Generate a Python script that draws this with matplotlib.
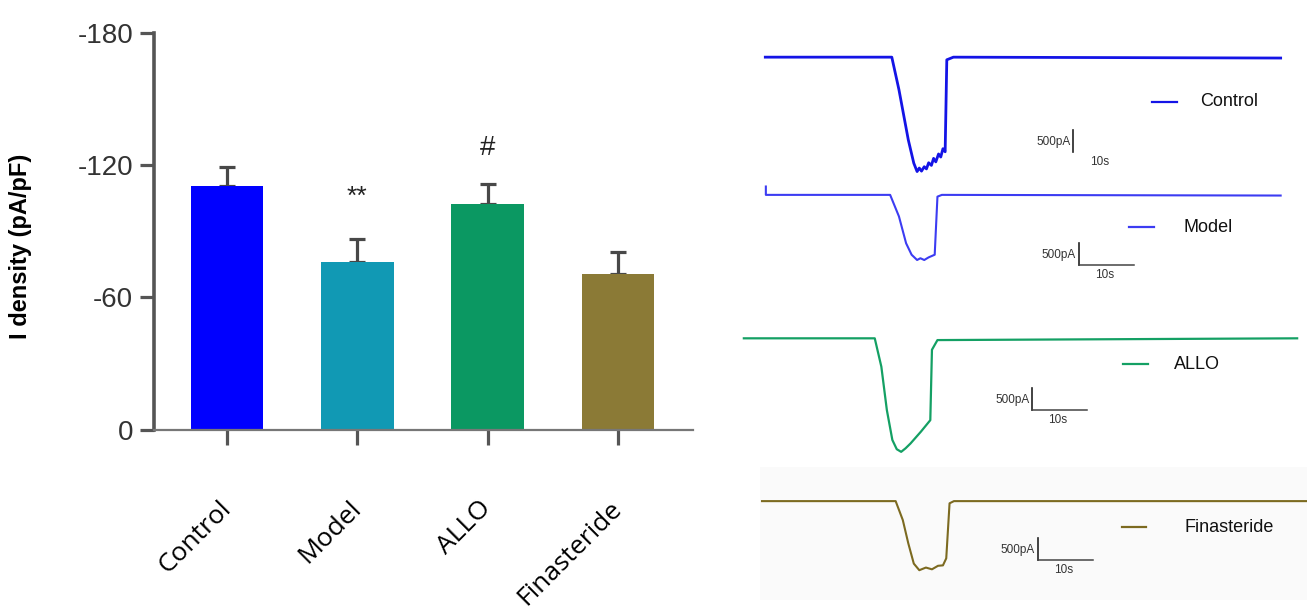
import matplotlib.pyplot as plt

plt.rcParams['font.family'] = ['Liberation Sans', 'DejaVu Sans']

# ---- bar chart data (I density, pA/pF) ----
groups = ['Control', 'Model', 'ALLO', 'Finasteride']
density = [-110.3, -76.0, -102.3, -70.4]
sem = [8.8, 10.6, 9.0, 10.2]
marks = ['', '**', '#', '']
bar_colors = ['#0000ff', '#1199b4', '#0b9862', '#8b7a36']
ytick_vals = [0, -60, -120, -180]

# ---- representative current traces (time s, current pA from baseline) ----
ctrl_t = [0, 23.0, 24.3, 26.0, 27.0, 27.6, 28.0, 28.4, 28.9, 29.3, 29.7, 30.2, 30.6,
          31.0, 31.5, 31.9, 32.3, 32.7, 33.0, 34.2, 93.7]
ctrl_i = [0, 0, -740, -1880, -2410, -2600, -2520, -2590, -2490, -2540, -2400, -2460,
          -2300, -2380, -2200, -2270, -2080, -2150, -60, 0, -20]
model_t = [0, 0, 22.6, 24.2, 25.5, 26.5, 27.5, 28.1, 28.8, 29.6, 30.7, 31.2, 32.0, 93.6]
model_i = [190, 0, 0, -490, -1100, -1360, -1480, -1440, -1480, -1420, -1360, -40, 0, -15]
allo_t = [0, 23.8, 25.0, 26.0, 27.0, 27.8, 28.6, 29.4, 30.3, 32.2, 33.9, 34.2, 35.2, 100.6]
allo_i = [0, 0, -645, -1630, -2310, -2520, -2580, -2500, -2390, -2120, -1860, -260, -40, 0]
fin_t = [0, 24.3, 25.6, 26.6, 27.6, 28.6, 29.8, 30.9, 32.0, 32.9, 33.5, 34.1, 34.9, 99.1]
fin_i = [0, 0, -430, -960, -1420, -1570, -1510, -1550, -1470, -1460, -1300, -50, 0, 0]

trace_t = [ctrl_t, model_t, allo_t, fin_t]
trace_i = [ctrl_i, model_i, allo_i, fin_i]
trace_colors = ['#1414e6', '#3c3cf2', '#14a064', '#7c6a20']
trace_lw = [2.0, 1.5, 1.6, 1.5]

# placement of each trace inside the right panel (s, pA)
trace_t0 = [4.6, 4.7, 0.7, 4.0]
trace_base = [-390, -3520, -6780, -10480]
scalebar_at = [(60.6, -2045), (61.6, -4620), (53.1, -7916), (54.1, -11325)]
scalebar_h = [False, True, True, True]
legend_at = [(74.9, -1402, 83.6), (70.7, -4257, 80.7), (69.7, -7364, 78.9), (69.4, -11075, 80.9)]

fig = plt.figure(figsize=(13.07, 6.14), dpi=100)

# ================= left: bar chart =================
ax = fig.add_axes([154 / 1307, 1 - 429.7 / 614, 538.7 / 1307, 397 / 614])
x = list(range(len(groups)))
ax.bar(x, density, width=0.556, color=bar_colors, zorder=2)
ax.errorbar(x, density, yerr=[sem, [0] * len(sem)], fmt='none', ecolor='#484848',
            elinewidth=2.3, capsize=6, capthick=2.3, zorder=1)
for xi, m in zip(x, marks):
    if m == '**':
        ax.text(xi, -102.5, m, ha='center', va='baseline', fontsize=19, color='#222222')
    elif m == '#':
        ax.text(xi, -124.5, m, ha='center', va='baseline', fontsize=20, color='#222222')

ax.set_xlim(-0.56, 3.573)
ax.set_ylim(0, -180)
ax.set_yticks(ytick_vals)
ax.set_yticklabels([str(v) for v in ytick_vals], fontsize=20, color='#333333')
ax.set_xticks(x)
ax.set_xticklabels(groups, rotation=45, ha='right', va='center', rotation_mode='anchor',
                   family=['Open Sans', 'DejaVu Sans'], fontsize=19)
ax.tick_params(axis='x', length=11, width=2.3, color='#555555', pad=43)
ax.tick_params(axis='y', length=10, width=2.3, color='#555555', pad=5)
for side in ['top', 'right']:
    ax.spines[side].set_visible(False)
ax.spines['left'].set_linewidth(2.6)
ax.spines['left'].set_color('#555555')
ax.spines['bottom'].set_linewidth(1.6)
ax.spines['bottom'].set_color('#777777')
ax.set_ylabel('I density (pA/pF)', fontsize=17, fontweight='bold')
ax.yaxis.set_label_coords(-0.2265, 0.463)

# ================= right: current traces =================
ax2 = fig.add_axes([740 / 1307, 1 - 600 / 614, 567 / 1307, 560 / 614])
ax2.set_xlim(0, 567 / 5.5)
ax2.set_ylim(-560 / 0.044, 0)
ax2.axis('off')
# faint grey backdrop of the last recording
ax2.axhspan(-560 / 0.044, -9700, xmin=0.035, xmax=1, color='#fafafa', zorder=0, lw=0)

for k in range(4):
    tt = [trace_t0[k] + t for t in trace_t[k]]
    ii = [trace_base[k] + i for i in trace_i[k]]
    ax2.plot(tt, ii, color=trace_colors[k], lw=trace_lw[k], solid_joinstyle='round')

    lx, ly, tx = legend_at[k]
    ax2.plot([lx, lx + 4.5], [ly, ly], color=trace_colors[k], lw=1.6)
    ax2.text(tx, ly, groups[k], ha='left', va='center', fontsize=13, color='#111111')

    sx, sy = scalebar_at[k]
    ax2.plot([sx, sx], [sy, sy - 500], color='#222222', lw=1.2)
    if scalebar_h[k]:
        ax2.plot([sx, sx + 10], [sy - 500, sy - 500], color='#444444', lw=1.1)
    ax2.text(sx - 0.5, sy - 270, '500pA', ha='right', va='center', fontsize=8.5,
             color='#333333')
    ax2.text(sx + 4.7, sy - 720, '10s', ha='center', va='center', fontsize=8.5,
             color='#333333')

fig.savefig('out.png', dpi=100)
